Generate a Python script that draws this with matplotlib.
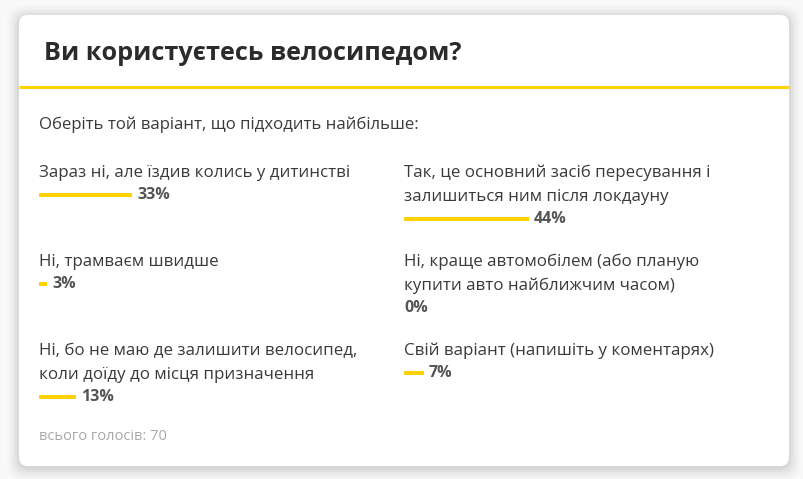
import matplotlib.pyplot as plt
from matplotlib.patches import FancyBboxPatch

plt.rcParams['font.family'] = ['Open Sans', 'DejaVu Sans']

title = "Ви користуєтесь велосипедом?"
subtitle = "Оберіть той варіант, що підходить найбільше:"
labels = [
    "Зараз ні, але їздив колись у дитинстві",
    "Так, це основний засіб пересування і\nзалишиться ним після локдауну",
    "Ні, трамваєм швидше",
    "Ні, краще автомобілем (або планую\nкупити авто найближчим часом)",
    "Ні, бо не маю де залишити велосипед,\nколи доїду до місця призначення",
    "Свій варіант (напишіть у коментарях)",
]
percents = [33, 44, 3, 0, 13, 7]
total_votes = 70

# layout (pixels)
W, H = 804, 479
col_x = [39, 404]
row_y = [173, 262, 351]
line_h = 24
px_per_pct = 2.83
yellow = '#ffd200'

fig = plt.figure(figsize=(W / 100, H / 100), dpi=100)
fig.patch.set_facecolor('#f9f9f9')
ax = fig.add_axes([0, 0, 1, 1])
ax.set_xlim(0, W)
ax.set_ylim(H, 0)
ax.axis('off')

# card shadow + card
for i, a in enumerate([0.012, 0.015, 0.018, 0.022, 0.026, 0.03]):
    g = 14 - i * 2
    ax.add_patch(FancyBboxPatch((19 - g + 2, 15 - g + 4), 770 + 2 * g - 4, 451 + 2 * g - 4,
                                boxstyle="round,pad=0,rounding_size=14",
                                fc='black', ec='none', alpha=a, zorder=0))
ax.add_patch(FancyBboxPatch((19, 15), 770, 451, boxstyle="round,pad=0,rounding_size=9",
                            fc='white', ec='none', zorder=1))

ax.text(44, 53, title, fontsize=18.2, fontweight='bold', color='#2b2b2b',
        va='center', ha='left', zorder=3)
ax.plot([19, 789], [87, 87], color=yellow, lw=2.2, solid_capstyle='butt', zorder=3)
ax.text(39, 125, subtitle, fontsize=12.1, color='#3a3a3a', va='center', ha='left', zorder=3)

for i, (lab, p) in enumerate(zip(labels, percents)):
    x0 = col_x[i % 2]
    y0 = row_y[i // 2]
    lines = lab.split('\n')
    for k, ln in enumerate(lines):
        ax.text(x0, y0 + k * line_h, ln, fontsize=12.2, color='#3a3a3a',
                va='center', ha='left', zorder=3)
    by = y0 + (len(lines) - 1) * line_h + 22
    w = p * px_per_pct
    if p > 0:
        ax.barh(by, w, left=x0, height=4, color=yellow, zorder=3)
        tx = x0 + w + 5
    else:
        tx = x0
    ax.text(tx, by, f"{p}%", fontsize=11.5, fontweight='bold', color='#555555',
            va='center', ha='left', zorder=3)

ax.text(39, 437, f"всього голосів: {total_votes}", fontsize=10.5, color='#a8a8a8',
        va='center', ha='left', zorder=3)

fig.savefig('out.png', dpi=100, facecolor=fig.get_facecolor())
